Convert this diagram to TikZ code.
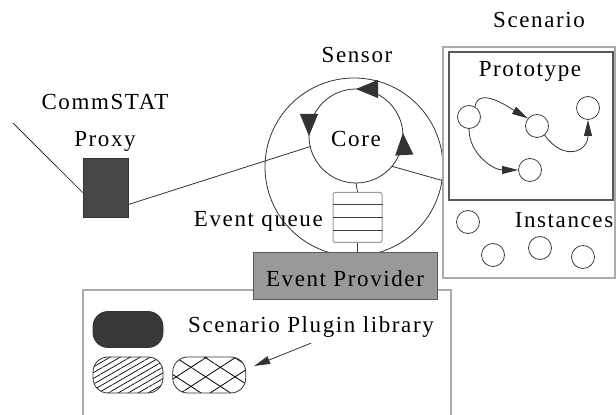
\documentclass[tikz,border=0pt]{standalone}
\usepackage{fontspec}
\setmainfont[LetterSpace=7]{Liberation Serif}
\usetikzlibrary{arrows,arrows.meta,positioning,shapes,calc,patterns.meta,decorations.markings}

\begin{document}
\begin{tikzpicture}[%
    x=1pt, y=1pt,
    >={Triangle[length=16pt,width=8pt]},   % thin filled heads
    every node/.style={font=\fontsize{23}{27}\selectfont, inner sep=0pt},
    ]

\tikzset{
    base/.style={draw, line width=0.8pt},
    txt/.style={anchor=base},
    wire/.style={line width=0.8pt, black!80},
    proxybox/.style={base, draw=black!80, fill=black!72, minimum width=45pt, minimum height=59pt},
    ring/.style={base, circle, draw=black!80},
    queuebox/.style={draw=black!40, line width=1pt, rounded corners=2pt, minimum width=49pt, minimum height=50pt},
    provbox/.style={base, draw=black!65, fill=black!40, minimum width=184pt, minimum height=47pt, text height=23pt, text depth=0pt},
    shell/.style={draw=black!33, line width=1.6pt},
    protobox/.style={draw=black!65, line width=1.4pt},
    protostate/.style={base, circle, draw=black!75, minimum size=23pt},
    plugin/.style={base, draw=black!80, rounded corners=15pt, minimum width=70pt, minimum height=36pt},
    % arrows running round the core
    coreloop/.style={decoration={markings,
        mark=at position 0.01 with {\arrow{Triangle[length=22pt,width=18pt]}},
        mark=at position 0.25 with {\arrow{Triangle[length=22pt,width=18pt]}},
        mark=at position 0.5 with {\arrow{Triangle[length=22pt,width=18pt]}}},
        postaction={decorate}},
}

\useasboundingbox (0,0) rectangle (616,415);

%% Plugin library (behind the provider)
\node [shell, anchor=north west, minimum width=368pt, minimum height=140pt] (lib) at (82,126) {};
\node [plugin, fill=black!78] (solidplug) at (128,85.5) {};
\node [plugin, pattern={Lines[angle=30,distance=5pt,line width=0.7pt]}] (hatchplug) at (128,40) {};
\node [plugin, right=9pt of hatchplug, minimum width=73pt,
       pattern={Lines[angle=33,distance=16pt,line width=0.8pt]},
       preaction={pattern={Lines[angle=-33,distance=16pt,line width=0.8pt]}}] (crossplug) {};
\node [txt] (plugtxt) at (311,82) {Scenario Plugin library};
    \draw[wire, ->] ([yshift=-5pt]plugtxt.south) -- ([xshift=8pt,yshift=9pt]crossplug.east);

%% Sensor
\node [ring, minimum size=178pt] (sensor) at (354,248) {};
\node [txt] (sensorlbl) at (357,352) {Sensor};
\node [circle, minimum size=94pt, text height=22pt, text depth=0pt] (core) at (356,279) {Core};
    \draw[wire, coreloop] (core.center) circle[radius=47pt];

\node [queuebox] (queue) at (357.5,197.5) {};
\foreach \k in {1,2,3}
    \draw[black!75, line width=1.2pt] ($(queue.south west)!\k/4!(queue.north west)$) -- ($(queue.south east)!\k/4!(queue.north east)$);
\node [anchor=base east] (queuelbl) at (323,188) {Event queue};
    \draw[wire] (core.south) -- (queue.north);

\node [provbox] (prov) at (345,139.5) {Event Provider};
    \draw[wire] (queue.south) -- (queue.south |- prov.north);

%% CommSTAT proxy
\node [proxybox] (proxy) at (105.5,227.5) {};
\node [txt] (proxylbl) at (105,305) {CommSTAT};
\node [txt] (proxylbl2) at (105,268) {Proxy};
    \coordinate (farend) at (13,292);
    \draw[wire] (farend) -- ([yshift=-5pt]proxy.west);
    \draw[wire] ([yshift=-17pt]proxy.east) -- (core.193);

%% Scenario
\node [shell, minimum width=172pt, minimum height=231pt] (scen) at (529,252.5) {};
\node [txt] (scenlbl) at (539,387) {Scenario};
\node [protobox, minimum width=164pt, minimum height=148pt] (proto) at (531,289) {};
\node [txt] (protolbl) at (530,338) {Prototype};
    \draw[wire] (core.-40) -- ([yshift=-18pt]scen.west);

\node [protostate] (pa) at (469,298) {};
\node [protostate] (pb) at (537,289) {};
\node [protostate] (pc) at (588,307) {};
\node [protostate] (pd) at (530,245) {};
    \draw[wire, ->] (pa.60) to[out=80, in=150] (pb.140);
    \draw[wire, ->] (pb.-50) to[out=-55, in=-90, looseness=1.8] (pc.south);
    \draw[wire, ->] (pa.south) to[out=-90, in=180] (pd.west);

\node [txt] (instlbl) at (564,187) {Instances};
\node [protostate] (inst1) at (468,193) {};
\node [protostate] (inst2) at (493,160) {};
\node [protostate] (inst3) at (540,167) {};
\node [protostate] (inst4) at (583,158) {};
\end{tikzpicture}
\end{document}
